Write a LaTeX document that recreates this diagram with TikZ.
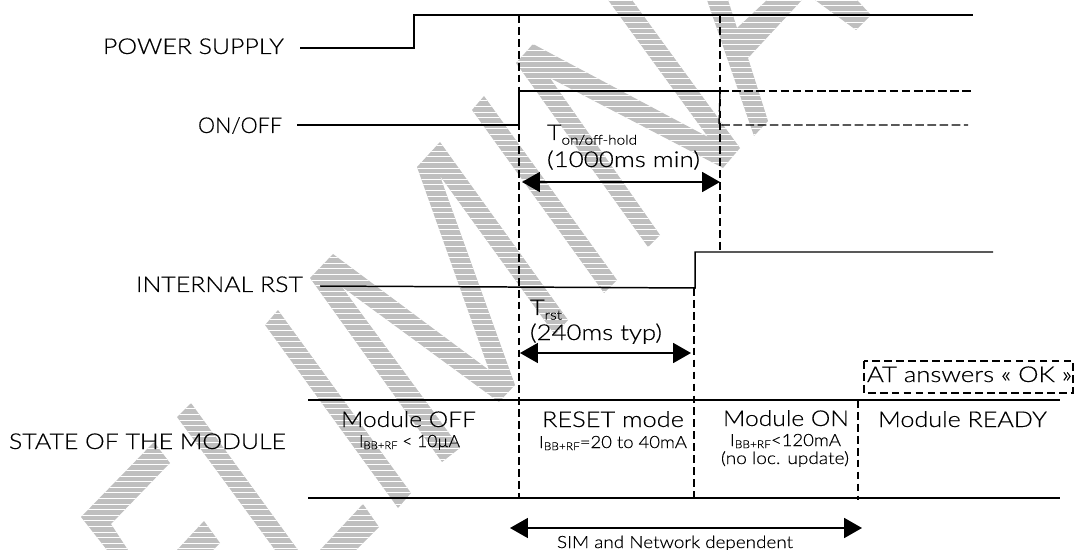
\documentclass[tikz,border=0pt]{standalone}
\usepackage{fontspec}
\usepackage{graphicx}
\usetikzlibrary{arrows.meta}
\newfontfamily\lightfont[FakeBold=0.35]{Lato Light}
\newsavebox{\fitbox}
\newcommand{\fitw}[2]{\sbox{\fitbox}{#2}\pgfmathsetmacro{\fitr}{#1*0.56906/\the\wd\fitbox}\scalebox{\fitr}[1]{\usebox{\fitbox}}}
\newcommand{\sz}[1]{\fontsize{#1}{#1}\selectfont}
\newcommand{\ibb}{{\sz{9.6}I}\raisebox{-1.2pt}{\sz{6.2}BB+RF}}
\definecolor{wm}{HTML}{BFBFBF}
\tikzset{
  tx/.style={anchor=base west,inner sep=0pt,outer sep=0pt,text=black,font=\lightfont\sz{12.4}},
  txs/.style={tx,font=\lightfont\sz{9.6}},
  sig/.style={line width=0.85pt,black},
  sigd/.style={line width=0.8pt,black,dash pattern=on 4.9pt off 2pt},
  vd/.style={line width=0.8pt,black,dash pattern=on 4.4pt off 2.4pt},
  dim/.style={line width=0.85pt,black,{Triangle[length=10.2pt,width=11.4pt]}-{Triangle[length=10.2pt,width=11.4pt]}}
}
\begin{document}
\begin{tikzpicture}[x=0.02cm,y=-0.02cm]
\useasboundingbox (0,0) rectangle (1074,550);
% watermark
\begin{scope}
\clip
 (516,63)--(533,44)--(708,137)--(608,0)--(632,0)--(740,148)--(723,168)--(550,78)--(660,235)--(648,247)--cycle
 (707,0)--(728,0)--(737,28)--(767,0)--(802,0)--(748,58)--(768,121)--(754,136)--cycle
 (815,0)--(856,30)--(871,15)--(857,0)--cycle
 (472,110)--(484,96)--(617,280)--(604,293)--cycle
 (442,462)--(310,278)--(333,254)--(489,370)--(417,167)--(440,142)--(568,320)--(555,335)--(440,176)--(515,385)--(499,402)--(342,287)--(460,448)--cycle
 (265,325)--(278,310)--(411,493)--(398,508)--cycle
 (177,417)--(191,403)--(298,550)--(275,550)--cycle
 (154,442)--(170,463)--(111,524)--(128,550)--(107,550)--(81,517)--cycle
 (204,521)--(220,543)--(213,550)--(177,550)--cycle
 (363,504)--(379,527)--(356,550)--(320,550)--cycle;
\fill[wm] (0,0) rectangle (1074,550);
\foreach \yy in {0,5.6,...,550} \draw[white,line width=0.4pt] (0,\yy)--(1074,\yy);
\end{scope}
% coordinates
\coordinate (ps0) at (300,48); \coordinate (ps1) at (414,48); \coordinate (ps2) at (414,15); \coordinate (ps3) at (973,15);
\coordinate (oo0) at (297,125); \coordinate (oo1) at (519,125); \coordinate (oo2) at (519,91); \coordinate (oo3) at (720,91);
\coordinate (oo4) at (973,91); \coordinate (oo5) at (719,125); \coordinate (oo6) at (968,125);
\coordinate (rs0) at (320,286); \coordinate (rs1) at (695,288); \coordinate (rs2) at (695,252); \coordinate (rs3) at (993,252);
\coordinate (st0) at (308,400); \coordinate (st1) at (1060,400); \coordinate (st2) at (308,498); \coordinate (st3) at (1060,498);
\coordinate (va0) at (519,15); \coordinate (va1) at (519,498);
\coordinate (vb0) at (720,15); \coordinate (vb1) at (720,252);
\coordinate (vc0) at (694,288); \coordinate (vc1) at (694,500);
\coordinate (vd0) at (858,400); \coordinate (vd1) at (858,500);
\coordinate (ta0) at (522,182); \coordinate (ta1) at (720,182);
\coordinate (tb0) at (520,353); \coordinate (tb1) at (691,353);
\coordinate (tc0) at (510,528); \coordinate (tc1) at (862,528);
\coordinate (bx0) at (864,361); \coordinate (bx1) at (1073,393);
% signals
\draw[sig] (ps0)--(ps1)--(ps2)--(ps3);
\draw[sig] (oo0)--(oo1)--(oo2)--(oo3);
\draw[sigd] (oo3)--(oo4);
\draw[sigd] (oo3)--(oo5)--(oo6);
\draw[sig] (rs0)--(rs1)--(rs2)--(rs3);
\draw[sig] (st0)--(st1);
\draw[sig] (st2)--(st3);
\draw[vd] (va0)--(va1);
\draw[vd] (vb0)--(vb1);
\draw[vd] (vc0)--(vc1);
\draw[vd] (vd0)--(vd1);
\draw[dim] (ta0)--(ta1);
\draw[dim] (tb0)--(tb1);
\draw[dim] (tc0)--(tc1);
\draw[vd] (bx0) rectangle (bx1);
% labels
\node[tx] (lps) at (103,54) {\fitw{181}{POWER SUPPLY}};
\node[tx] (loo) at (198,133) {\fitw{84}{ON/OFF}};
\node[tx] (lrs) at (136,292) {\fitw{167}{INTERNAL RST}};
\node[tx] (lst) at (9,449) {\fitw{277}{STATE OF THE MODULE}};
\node[tx] (ton) at (547,140) {\fitw{90}{T\raisebox{-2.6pt}{\sz{7.6}on/off-hold}}};
\node[tx] (tms) at (547,167) {\fitw{153}{(1000ms min)}};
\node[tx] (trs) at (530,315) {\fitw{32}{T\raisebox{-2.6pt}{\sz{7.6}rst}}};
\node[tx] (rms) at (530,340) {\fitw{132}{(240ms typ)}};
\node[tx] (mof) at (341,427) {\fitw{135}{Module OFF}};
\node[txs] (iof) at (359,447) {\fitw{101}{\ibb{} < 10µA}};
\node[tx] (rsm) at (542,427) {\fitw{142}{RESET mode}};
\node[txs] (irs) at (539,448) {\fitw{148}{\ibb=20 to 40mA}};
\node[tx] (mon) at (723,426) {\fitw{126}{Module ON}};
\node[txs] (ion) at (730,446) {\fitw{111}{\ibb<120mA}};
\node[txs] (nlc) at (721,464) {\fitw{128}{(no loc. update)}};
\node[tx] (mrd) at (878,427) {\fitw{169}{Module READY}};
\node[tx] (atk) at (867,382) {\fitw{205}{AT answers « OK »}};
\node[txs] (sim) at (557,548) {\fitw{236}{SIM and Network dependent}};
\end{tikzpicture}
\end{document}
